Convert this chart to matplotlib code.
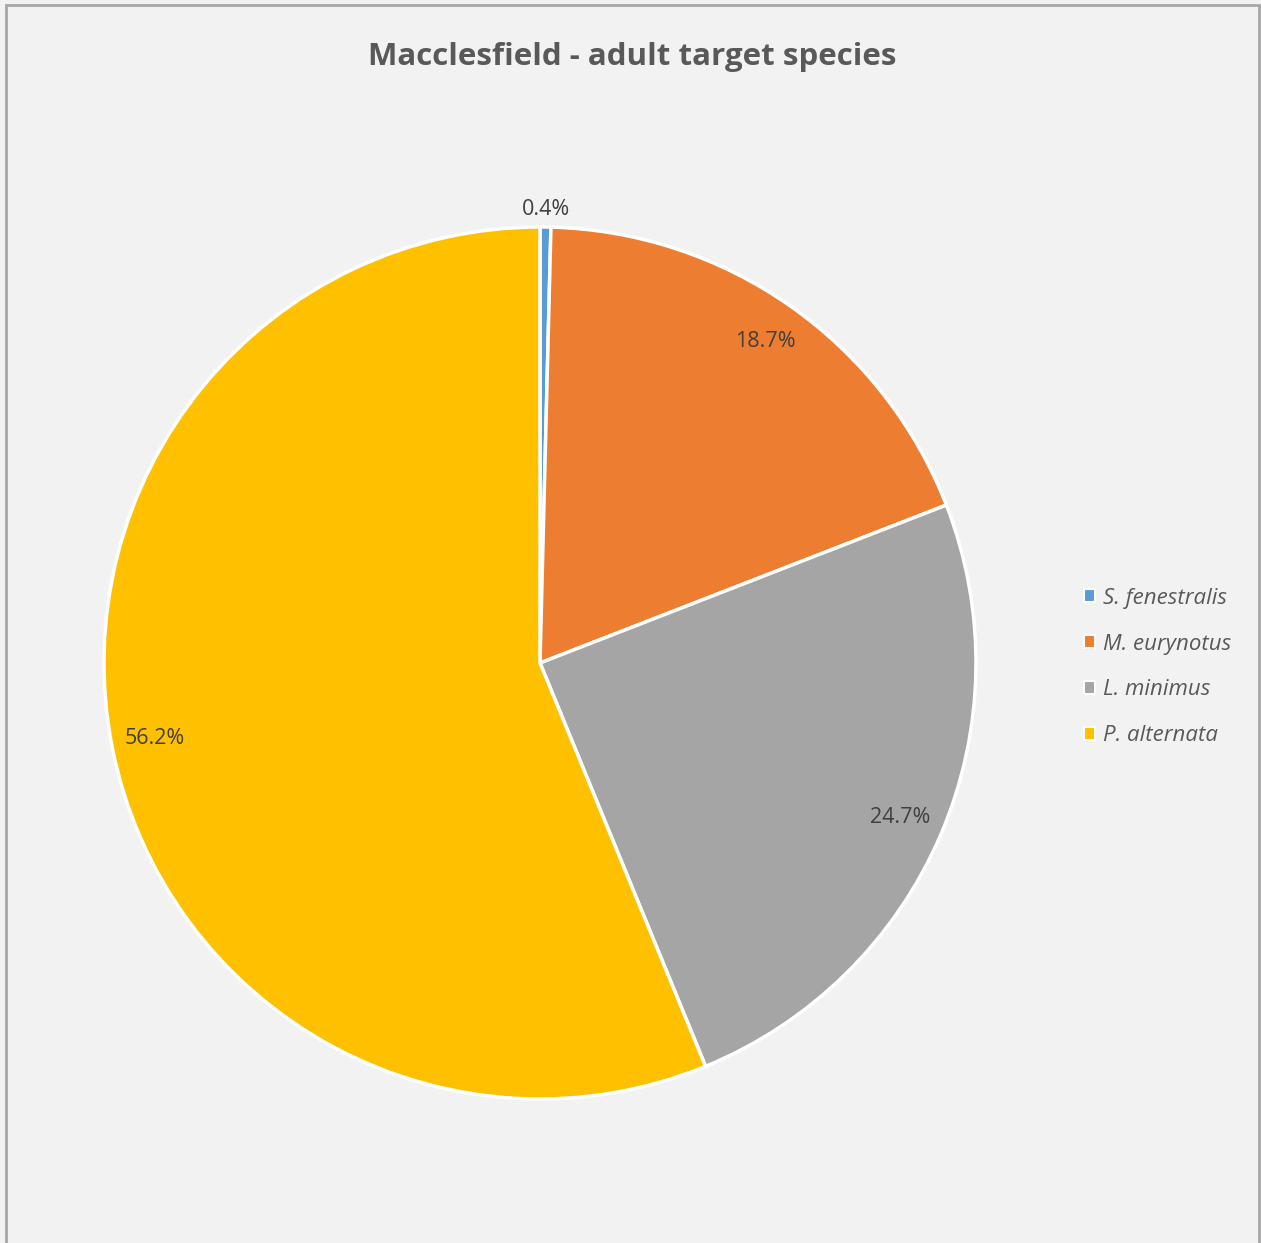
import numpy as np
import matplotlib.pyplot as plt
from matplotlib.patches import Rectangle

plt.rcParams['font.family'] = ['Open Sans', 'DejaVu Sans']

# adult target species counts, as percentages
species = ['S. fenestralis', 'M. eurynotus', 'L. minimus', 'P. alternata']
shares = [0.4, 18.7, 24.7, 56.2]
colours = ['#5B9BD5', '#ED7D31', '#A5A5A5', '#FFC000']

W, H = 1261, 1243
fig = plt.figure(figsize=(W / 100, H / 100), dpi=100, facecolor='#F2F2F2')

# chart border (bottom edge runs off the image)
fig.patches.append(Rectangle((6 / W, -0.01), (1253 / W), 1 - 5 / H + 0.01,
                             transform=fig.transFigure, fill=False,
                             edgecolor='#A6A6A6', linewidth=2))

fig.text(632 / W, 1 - 57 / H, 'Macclesfield - adult target species',
         ha='center', va='center', fontsize=22.5, fontweight='bold', color='#595959')

cx, cy, r = 540, 663, 436
ax = fig.add_axes([(cx - r) / W, 1 - (cy + r) / H, 2 * r / W, 2 * r / H])
ax.set_facecolor('none')

wedges, texts, autotexts = ax.pie(
    shares, colors=colours, startangle=90, counterclock=False,
    autopct='%.1f%%', pctdistance=0.9,
    wedgeprops=dict(edgecolor='white', linewidth=2.5),
    textprops=dict(fontsize=15.5, color='#404040'))
ax.set_xlim(-1, 1)
ax.set_ylim(-1, 1)

# the thin slice gets its label just outside the rim
for w, t, v in zip(wedges, autotexts, shares):
    if v < 2:
        mid = np.deg2rad((w.theta1 + w.theta2) / 2)
        t.set_position((1.04 * np.cos(mid), 1.04 * np.sin(mid)))

leg = fig.legend(wedges, species, loc='center left',
                 bbox_to_anchor=(1084 / W, 1 - 667 / H), frameon=False,
                 borderaxespad=0, borderpad=0,
                 handlelength=0.5, handleheight=0.5, handletextpad=0.35,
                 labelspacing=1.12, fontsize=16)
for t in leg.get_texts():
    t.set_fontstyle('italic')
    t.set_color('#595959')
for h in leg.legend_handles:
    h.set_edgecolor('white')
    h.set_linewidth(1.5)

fig.savefig('out.png', dpi=100, facecolor=fig.get_facecolor())
